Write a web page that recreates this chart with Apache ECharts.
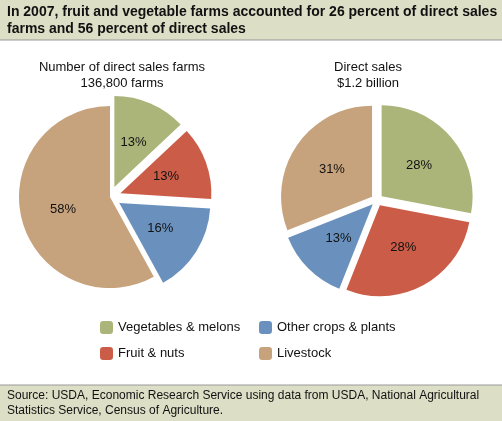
<!DOCTYPE html>
<html>
<head>
<meta charset="utf-8">
<script src="https://cdn.jsdelivr.net/npm/echarts@6/dist/echarts.min.js"></script>
<style>html,body{margin:0;padding:0;background:#fff}#main{width:502px;height:421px}</style>
</head>
<body>
<div id="main"></div>
<script>
var categories = ['Vegetables & melons', 'Fruit & nuts', 'Other crops & plants', 'Livestock'];
var colors = ['#abb57a', '#cb5c48', '#6a91bd', '#c7a37d'];
var farmsShare = [13, 13, 16, 58];
var salesShare = [28, 28, 13, 31];
var farmsExploded = [true, true, true, false];
var salesExploded = [true, true, true, true];

function pieData(values, exploded) {
    return values.map(function (v, i) {
        return { name: categories[i], value: v, selected: exploded[i], itemStyle: { color: colors[i] } };
    });
}

function pieSeries(center, values, exploded, offset) {
    return {
        type: 'pie',
        center: center,
        radius: 91,
        startAngle: 90,
        selectedMode: 'multiple',
        selectedOffset: offset,
        emphasis: { disabled: true },
        label: {
            position: 'inside',
            formatter: '{c}%',
            color: '#111',
            fontSize: 13,
            fontFamily: 'Liberation Sans'
        },
        labelLine: { show: false },
        data: pieData(values, exploded)
    };
}

var myChart = echarts.init(document.getElementById('main'));
var font = 'Liberation Sans';
var option = {
    animation: false,
    graphic: [
        { type: 'rect', shape: { x: 0, y: 0, width: 502, height: 40 }, style: { fill: '#dcdec6' } },
        { type: 'line', shape: { x1: 0, y1: 40, x2: 502, y2: 40 }, style: { stroke: '#999', lineWidth: 1 } },
        { type: 'rect', shape: { x: 0, y: 385, width: 502, height: 36 }, style: { fill: '#dcdec6' } },
        { type: 'line', shape: { x1: 0, y1: 385, x2: 502, y2: 385 }, style: { stroke: '#999', lineWidth: 1 } },
        { type: 'text', left: 7, top: 4, style: { text: 'In 2007, fruit and vegetable farms accounted for 26 percent of direct sales\nfarms and 56 percent of direct sales', font: 'bold 14px Liberation Sans', lineHeight: 17, fill: '#111' } },
        { type: 'text', left: 7, top: 388, style: { text: 'Source: USDA, Economic Research Service using data from USDA, National Agricultural\nStatistics Service, Census of Agriculture.', font: '12px Liberation Sans', lineHeight: 15, fill: '#111' } },
        { type: 'text', x: 122, y: 59, style: { text: 'Number of direct sales farms\n136,800 farms', font: '13px Liberation Sans', lineHeight: 16, align: 'center', fill: '#111' } },
        { type: 'text', x: 368, y: 59, style: { text: 'Direct sales\n$1.2 billion', font: '13px Liberation Sans', lineHeight: 16, align: 'center', fill: '#111' } }
    ],
    legend: [
        { orient: 'vertical', left: 95, top: 316, itemWidth: 13, itemHeight: 13, itemGap: 13, selectedMode: false,
          textStyle: { fontSize: 13, fontFamily: font, color: '#111' }, data: [categories[0], categories[1]] },
        { orient: 'vertical', left: 254, top: 316, itemWidth: 13, itemHeight: 13, itemGap: 13, selectedMode: false,
          textStyle: { fontSize: 13, fontFamily: font, color: '#111' }, data: [categories[2], categories[3]] }
    ],
    series: [
        pieSeries([110, 197], farmsShare, farmsExploded, 11),
        pieSeries([377, 200], salesShare, salesExploded, 6)
    ]
};
myChart.setOption(option);
</script>
</body>
</html>
